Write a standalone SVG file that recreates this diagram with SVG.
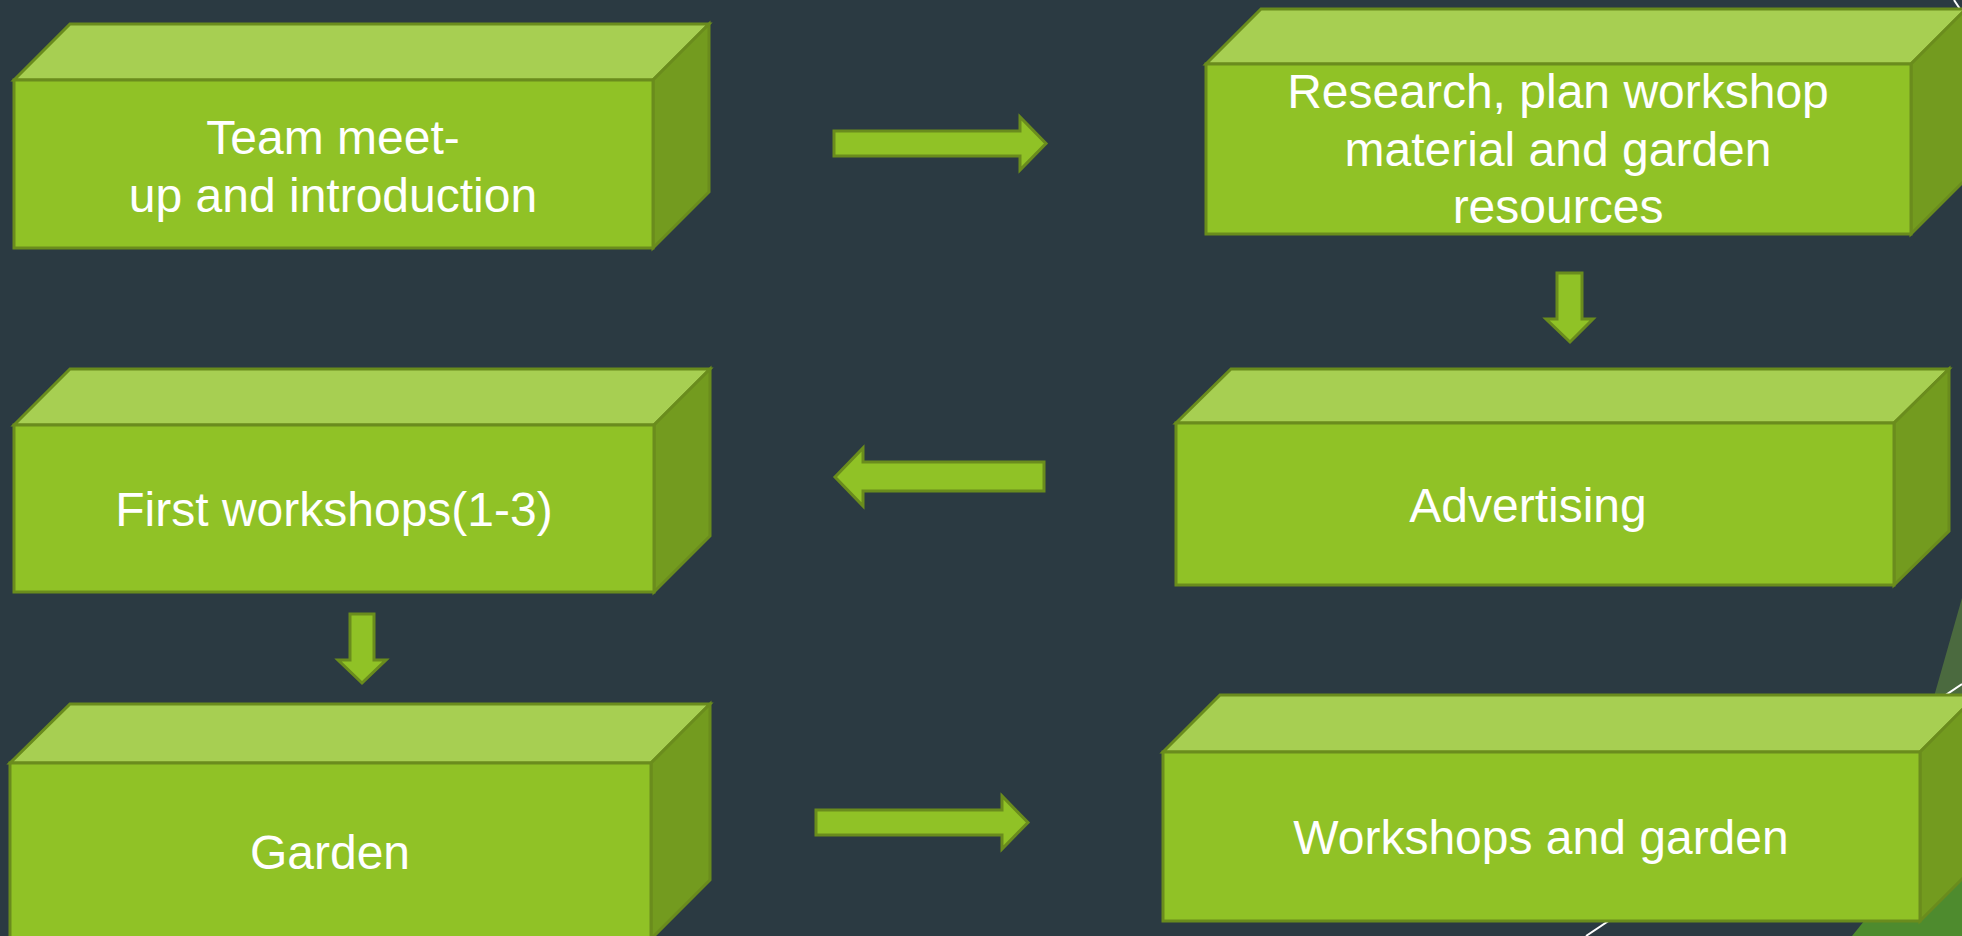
<svg xmlns="http://www.w3.org/2000/svg" width="1962" height="936" viewBox="0 0 1962 936">
  <style>
    .front { fill: #90c226; stroke: #6a8c1d; stroke-width: 3; stroke-linejoin: miter; }
    .top { fill: #a7cf52; stroke: #6a8c1d; stroke-width: 3; stroke-linejoin: miter; }
    .side { fill: #739b1f; stroke: #6a8c1d; stroke-width: 3; stroke-linejoin: miter; }
    .arrow { fill: #90c226; stroke: #6a8c1d; stroke-width: 3; stroke-linejoin: miter; }
    .label { fill: #ffffff; font-family: "Liberation Sans", Arial, sans-serif; font-size: 48px; text-anchor: middle; }
    .deco-line { stroke: #ffffff; stroke-width: 2; fill: none; }
  </style>
  <rect x="0" y="0" width="1962" height="936" fill="#2b3a42"/>

  <g id="background-decoration">
    <polygon points="1962,598 1866,936 1962,936" fill="#4b6a3f"/>
    <polygon points="1852,936 1962,800 1962,936" fill="#4e8b2e"/>
    <line class="deco-line" x1="1586" y1="936" x2="1962" y2="684"/>
    <line class="deco-line" x1="1954" y1="0" x2="1962" y2="12"/>
  </g>

  <g id="connectors">
    <polygon class="arrow" points="834,131 1020,131 1020,117 1046,143.5 1020,170 1020,156 834,156"/>
    <polygon class="arrow" points="1557,273 1582,273 1582,319 1593,319 1570,342 1546,319 1557,319"/>
    <polygon class="arrow" points="1044,462 863,462 863,448 835,477 863,506 863,491 1044,491"/>
    <polygon class="arrow" points="350,614 374,614 374,660 386,660 362,683 338,660 350,660"/>
    <polygon class="arrow" points="816,810 1002,810 1002,796 1028,822.5 1002,849 1002,835 816,835"/>
  </g>

  <g id="node-team-meetup">
    <polygon class="top" points="14,80 70,24 709,24 653,80"/>
    <polygon class="side" points="653,80 709,24 709,192 653,248"/>
    <rect class="front" x="14" y="80" width="639" height="168"/>
    <text class="label" x="333" y="154">Team meet-</text>
    <text class="label" x="333" y="212">up and introduction</text>
  </g>

  <g id="node-research">
    <polygon class="top" points="1206,64 1261,9 1966,9 1911,64"/>
    <polygon class="side" points="1911,64 1966,9 1966,179 1911,234"/>
    <rect class="front" x="1206" y="64" width="705" height="170"/>
    <text class="label" x="1558" y="108">Research, plan workshop</text>
    <text class="label" x="1558" y="166">material and garden</text>
    <text class="label" x="1558" y="223">resources</text>
  </g>

  <g id="node-first-workshops">
    <polygon class="top" points="14,425 70,369 710,369 654,425"/>
    <polygon class="side" points="654,425 710,369 710,536 654,592"/>
    <rect class="front" x="14" y="425" width="640" height="167"/>
    <text class="label" x="334" y="526">First workshops(1-3)</text>
  </g>

  <g id="node-advertising">
    <polygon class="top" points="1176,423 1231,369 1949,369 1894,423"/>
    <polygon class="side" points="1894,423 1949,369 1949,531 1894,585"/>
    <rect class="front" x="1176" y="423" width="718" height="162"/>
    <text class="label" x="1528" y="522">Advertising</text>
  </g>

  <g id="node-garden">
    <polygon class="top" points="10,763 70,704 710,704 651,763"/>
    <polygon class="side" points="651,763 710,704 710,880 651,939"/>
    <rect class="front" x="10" y="763" width="641" height="176"/>
    <text class="label" x="330" y="869">Garden</text>
  </g>

  <g id="node-workshops-garden">
    <polygon class="top" points="1163,752 1220,695 1977,695 1920,752"/>
    <polygon class="side" points="1920,752 1977,695 1977,864 1920,921"/>
    <rect class="front" x="1163" y="752" width="757" height="169"/>
    <text class="label" x="1541" y="854">Workshops and garden</text>
  </g>
</svg>
